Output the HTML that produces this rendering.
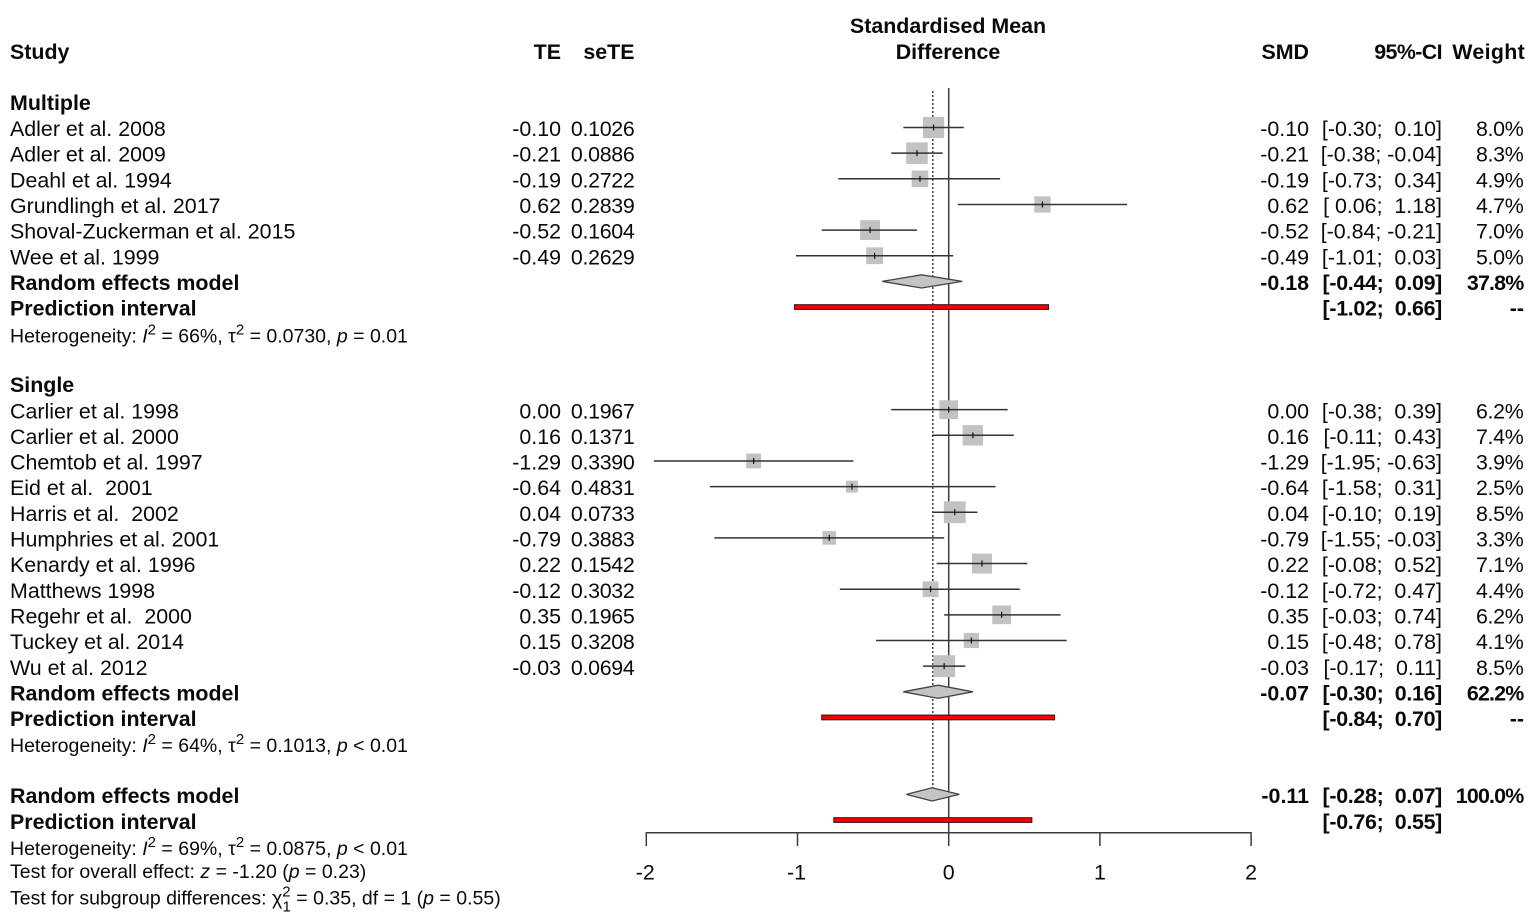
<!DOCTYPE html>
<html lang="en">
<head>
<meta charset="utf-8">
<title>Forest plot of standardised mean difference</title>
<style>
html,body{margin:0;padding:0;background:#fff;}
svg{display:block;}
text{font-family:"Liberation Sans",Arial,sans-serif;font-size:21.4px;fill:#0a0a0a;white-space:pre;}
.b{font-weight:bold;}
.m{text-anchor:end;}
.c{text-anchor:middle;}
.s{font-size:15px;}
.note{font-size:19.5px;}
.tight{letter-spacing:-0.3px;}
.tighter{letter-spacing:-0.8px;}
</style>
</head>
<body>
<svg id="plot" xmlns="http://www.w3.org/2000/svg" width="1535" height="922" viewBox="0 0 1535 922">
  <rect x="0" y="0" width="1535" height="922" fill="#fff"/>
  <g>
    <text class="b c" x="948" y="33">Standardised Mean</text>
    <text class="b c" x="948" y="59">Difference</text>
    <text class="b" x="10" y="59">Study</text>
    <text class="b m" x="561" y="59">TE</text>
    <text class="b m" x="634.5" y="59">seTE</text>
    <text class="b m" x="1309" y="59">SMD</text>
    <text class="b m" x="1442" y="59" style="letter-spacing:-0.6px">95%-CI</text>
    <text class="b m" x="1525" y="59" style="letter-spacing:0.3px">Weight</text>
  </g>
  <g>
    <text class="b" x="10" y="110">Multiple</text>
    <text class="b" x="10" y="392">Single</text>
  </g>
  <g>
    <text class="note" x="10" y="342.5">Heterogeneity: <tspan font-style="italic">I</tspan><tspan class="s" dy="-8">2</tspan><tspan dy="8"> = 66%, τ</tspan><tspan class="s" dy="-8">2</tspan><tspan dy="8"> = 0.0730, </tspan><tspan font-style="italic">p</tspan> = 0.01</text>
    <text class="note" x="10" y="752">Heterogeneity: <tspan font-style="italic">I</tspan><tspan class="s" dy="-8">2</tspan><tspan dy="8"> = 64%, τ</tspan><tspan class="s" dy="-8">2</tspan><tspan dy="8"> = 0.1013, </tspan><tspan font-style="italic">p</tspan> &lt; 0.01</text>
    <text class="note" x="10" y="855">Heterogeneity: <tspan font-style="italic">I</tspan><tspan class="s" dy="-8">2</tspan><tspan dy="8"> = 69%, τ</tspan><tspan class="s" dy="-8">2</tspan><tspan dy="8"> = 0.0875, </tspan><tspan font-style="italic">p</tspan> &lt; 0.01</text>
    <text class="note" x="10" y="878">Test for overall effect: <tspan font-style="italic">z</tspan> = -1.20 (<tspan font-style="italic">p</tspan> = 0.23)</text>
    <text class="note" x="10" y="904.5">Test for subgroup differences: χ<tspan class="s" dy="-8">2</tspan><tspan class="s" dx="-8" dy="15">1</tspan><tspan dy="-7"> = 0.35, df = 1 (</tspan><tspan font-style="italic">p</tspan> = 0.55)</text>
  </g>
</svg>
<script>
// Chart data
const multipleStudies = ["Adler et al. 2008","Adler et al. 2009","Deahl et al. 1994","Grundlingh et al. 2017","Shoval-Zuckerman et al. 2015","Wee et al. 1999"];
const multipleTE = [-0.10,-0.21,-0.19,0.62,-0.52,-0.49];
const multipleSeTE = [0.1026,0.0886,0.2722,0.2839,0.1604,0.2629];
const multipleLower = [-0.30,-0.38,-0.73,0.06,-0.84,-1.01];
const multipleUpper = [0.10,-0.04,0.34,1.18,-0.21,0.03];
const multipleWeight = [8.0,8.3,4.9,4.7,7.0,5.0];

const singleStudies = ["Carlier et al. 1998","Carlier et al. 2000","Chemtob et al. 1997","Eid et al.  2001","Harris et al.  2002","Humphries et al. 2001","Kenardy et al. 1996","Matthews 1998","Regehr et al.  2000","Tuckey et al. 2014","Wu et al. 2012"];
const singleTE = [0.00,0.16,-1.29,-0.64,0.04,-0.79,0.22,-0.12,0.35,0.15,-0.03];
const singleSeTE = [0.1967,0.1371,0.3390,0.4831,0.0733,0.3883,0.1542,0.3032,0.1965,0.3208,0.0694];
const singleLower = [-0.38,-0.11,-1.95,-1.58,-0.10,-1.55,-0.08,-0.72,-0.03,-0.48,-0.17];
const singleUpper = [0.39,0.43,-0.63,0.31,0.19,-0.03,0.52,0.47,0.74,0.78,0.11];
const singleWeight = [6.2,7.4,3.9,2.5,8.5,3.3,7.1,4.4,6.2,4.1,8.5];

const modelSMD = [-0.18,-0.07,-0.11];
const modelLower = [-0.44,-0.30,-0.28];
const modelUpper = [0.09,0.16,0.07];
const modelWeight = [37.8,62.2,100.0];
const predictionLower = [-1.02,-0.84,-0.76];
const predictionUpper = [0.66,0.70,0.55];

const pooledEffect = -0.105;
const axisTicks = [-2,-1,0,1,2];

// Axis functions
const svg = document.getElementById('plot');
const NS = 'http://www.w3.org/2000/svg';
function xScale(v){ return 948.7 + 151.2 * v; }
function textY(row){ return 136 + 25.66 * row; }
function markY(row){ return 127.5 + 25.65 * row; }
function squareSide(w){ return 7.5 * Math.sqrt(w); }
function make(tag, attrs){
  const el = document.createElementNS(NS, tag);
  for (const k in attrs) el.setAttribute(k, attrs[k]);
  return el;
}
function label(str, x, row, cls){
  const el = make('text', {x: x, y: textY(row), class: cls});
  el.textContent = str;
  return el;
}
function fmtCI(lo, hi){
  const f = v => (v < 0 ? '' : ' ') + v.toFixed(2);
  return '[' + f(lo) + '; ' + f(hi) + ']';
}

const refLines = make('g', {});


svg.appendChild(refLines);
const marks = make('g', {});


svg.appendChild(marks);
const rowsLayer = make('g', {});


svg.appendChild(rowsLayer);

// Reference lines
const nullLine = make('line', {x1: xScale(0), x2: xScale(0), y1: 88, y2: 833, stroke: '#3c3c3c', 'stroke-width': 1.5});


refLines.appendChild(nullLine);
const pooledLine = make('line', {x1: xScale(pooledEffect), x2: xScale(pooledEffect), y1: 91, y2: 790, stroke: '#333', 'stroke-width': 1.4, 'stroke-dasharray': '2 2'});


refLines.appendChild(pooledLine);

// Study rows
function drawStudies(names, te, se, lo, hi, wt, startRow){
  names.forEach(function(name, i){
    const row = startRow + i;
    const y = markY(row);
    const side = squareSide(wt[i]);
    const sq = make('rect', {x: xScale(te[i]) - side / 2, y: y - side / 2, width: side, height: side, fill: '#c2c2c2'});
    
    
    marks.appendChild(sq);
    const ci = make('line', {x1: xScale(lo[i]), x2: xScale(hi[i]), y1: y, y2: y, stroke: '#333', 'stroke-width': 1.5});
    
    
    marks.appendChild(ci);
    const tick = make('line', {x1: xScale(te[i]), x2: xScale(te[i]), y1: y - 3, y2: y + 3, stroke: '#111', 'stroke-width': 1.2});
    
    
    marks.appendChild(tick);

    const a = label(name, 10, row, '');
    
    
    rowsLayer.appendChild(a);
    const b = label(te[i].toFixed(2), 561, row, 'm');
    
    
    rowsLayer.appendChild(b);
    const c = label(se[i].toFixed(4), 634.5, row, 'm tight');
    
    
    rowsLayer.appendChild(c);
    const d = label(te[i].toFixed(2), 1309, row, 'm');
    
    
    rowsLayer.appendChild(d);
    const e = label(fmtCI(lo[i], hi[i]), 1442, row, 'm');
    
    
    rowsLayer.appendChild(e);
    const f = label(wt[i].toFixed(1) + '%', 1523.5, row, 'm tight');
    
    
    rowsLayer.appendChild(f);
  });
}
drawStudies(multipleStudies, multipleTE, multipleSeTE, multipleLower, multipleUpper, multipleWeight, 0);
drawStudies(singleStudies, singleTE, singleSeTE, singleLower, singleUpper, singleWeight, 11);

// Summary rows: pooled diamond and prediction interval
function drawModel(i, row){
  const y = markY(row);
  const yP = markY(row + 1);
  const diamond = make('polygon', {
    points: xScale(modelLower[i]) + ',' + y + ' ' + xScale(modelSMD[i]) + ',' + (y - 6.6) + ' ' + xScale(modelUpper[i]) + ',' + y + ' ' + xScale(modelSMD[i]) + ',' + (y + 6.6),
    fill: '#c4c4c4', stroke: '#444', 'stroke-width': 1.3
  });
  
  
  marks.appendChild(diamond);
  const pi = make('rect', {x: xScale(predictionLower[i]), y: yP - 2.4, width: xScale(predictionUpper[i]) - xScale(predictionLower[i]), height: 4.8, fill: '#f00000', stroke: '#4a1010', 'stroke-width': 1});
  
  
  marks.appendChild(pi);

  const a = label('Random effects model', 10, row, 'b');
  
  
  rowsLayer.appendChild(a);
  const b = label(modelSMD[i].toFixed(2), 1309, row, 'b m');
  
  
  rowsLayer.appendChild(b);
  const c = label(fmtCI(modelLower[i], modelUpper[i]), 1442, row, 'b m tight');
  
  
  rowsLayer.appendChild(c);
  const d = label(modelWeight[i].toFixed(1) + '%', 1523.5, row, 'b m tighter');
  
  
  rowsLayer.appendChild(d);
  const e = label('Prediction interval', 10, row + 1, 'b');
  
  
  rowsLayer.appendChild(e);
  const f = label(fmtCI(predictionLower[i], predictionUpper[i]), 1442, row + 1, 'b m tight');
  
  
  rowsLayer.appendChild(f);
  if (i < 2) {
    const g = label('--', 1524, row + 1, 'b m');
    
    
    rowsLayer.appendChild(g);
  }
}
drawModel(0, multipleStudies.length);
drawModel(1, 11 + singleStudies.length);
drawModel(2, 26);

// X axis
const axis = make('g', {});


svg.appendChild(axis);
const axisLine = make('line', {x1: xScale(axisTicks[0]), x2: xScale(axisTicks[axisTicks.length - 1]), y1: 832.7, y2: 832.7, stroke: '#3c3c3c', 'stroke-width': 1.5});


axis.appendChild(axisLine);
axisTicks.forEach(function(t){
  const tick = make('line', {x1: xScale(t), x2: xScale(t), y1: 832, y2: 846, stroke: '#3c3c3c', 'stroke-width': 1.5});
  
  
  axis.appendChild(tick);
  const lab = make('text', {x: xScale(t) - (t < 0 ? 1 : 0), y: 879.5, class: 'c'});
  lab.textContent = String(t);
  
  
  axis.appendChild(lab);
});
</script>
</body>
</html>
